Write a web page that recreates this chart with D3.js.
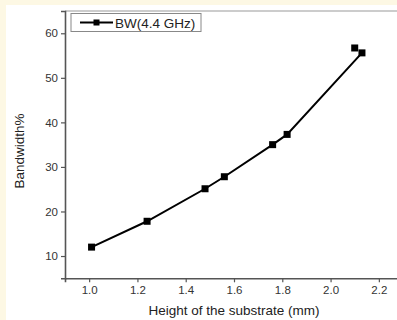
<!DOCTYPE html>
<html>
<head>
<meta charset="utf-8">
<script src="https://cdn.jsdelivr.net/npm/d3@7"></script>
<style>
  body { margin: 0; background: #fdf8e4; }
  svg { display: block; }
  text { font-family: "Liberation Sans", Arial, sans-serif; }
</style>
</head>
<body>
<div id="chart"></div>
<script>
// data
const heights = [1.01, 1.24, 1.48, 1.56, 1.76, 1.82, 2.13];
const bandwidth = [12.0, 17.8, 25.1, 27.8, 35.0, 37.3, 55.6];
// extra marker that sits off the line
const extraHeights = [2.10];
const extraBandwidth = [56.7];
const xTicks = [1.0, 1.2, 1.4, 1.6, 1.8, 2.0, 2.2];
const yTicks = [10, 20, 30, 40, 50, 60];
const seriesName = "BW(4.4 GHz)";

const W = 397, H = 320;
const margin = {left: 65, top: 11, right: 403, bottom: 278.3};

const svg = d3.select("#chart").append("svg")
    .attr("width", W).attr("height", H);

// white panel over the cream page
svg.append("rect")
    .attr("x", 6).attr("y", 5)
    .attr("width", W - 6).attr("height", H - 5)
    .attr("fill", "#fff");

const x = d3.scaleLinear().domain([0.9, 2.3]).range([margin.left, margin.right]);
const y = d3.scaleLinear().domain([5, 65]).range([margin.bottom, margin.top]);

// frame top
svg.append("line")
    .attr("x1", margin.left).attr("x2", W)
    .attr("y1", margin.top).attr("y2", margin.top)
    .attr("stroke", "#999").attr("stroke-width", 1.2);

const xAxis = svg.append("g")
    .attr("transform", `translate(0,${margin.bottom})`)
    .call(d3.axisBottom(x).tickValues(xTicks).tickFormat(d3.format(".1f")).tickSizeOuter(0).tickSize(4).tickPadding(4));

const yAxis = svg.append("g")
    .attr("transform", `translate(${margin.left},0)`)
    .call(d3.axisLeft(y).tickValues(yTicks).tickSizeOuter(0).tickSize(4).tickPadding(3));

[xAxis, yAxis].forEach(g => {
    g.select(".domain").attr("stroke", "#555").attr("stroke-width", 1.6);
    g.selectAll(".tick line").attr("stroke", "#555").attr("stroke-width", 1.2);
    g.selectAll(".tick text").attr("fill", "#333").attr("font-size", 11.5);
});

// axis titles
svg.append("text")
    .attr("x", 234).attr("y", 315)
    .attr("text-anchor", "middle")
    .attr("font-size", 13.5).attr("fill", "#222")
    .text("Height of the substrate (mm)");

svg.append("text")
    .attr("transform", "translate(24,151) rotate(-90)")
    .attr("text-anchor", "middle")
    .attr("font-size", 13.5).attr("fill", "#222")
    .text("Bandwidth%");

// line + markers
const pts = heights.map((h, i) => ({h: h, v: bandwidth[i]}));
const extra = extraHeights.map((h, i) => ({h: h, v: extraBandwidth[i]}));

svg.append("path")
    .datum(pts)
    .attr("fill", "none")
    .attr("stroke", "#000")
    .attr("stroke-width", 2)
    .attr("d", d3.line().x(d => x(d.h)).y(d => y(d.v)));

const ms = 7;
svg.selectAll(".pt")
    .data(pts.concat(extra))
    .enter().append("rect")
    .attr("class", "pt")
    .attr("x", d => x(d.h) - ms / 2)
    .attr("y", d => y(d.v) - ms / 2)
    .attr("width", ms).attr("height", ms)
    .attr("fill", "#000");

// legend
const lg = svg.append("g").attr("transform", "translate(71,13.5)");
lg.append("rect")
    .attr("width", 130).attr("height", 18)
    .attr("fill", "#fff").attr("stroke", "#888").attr("stroke-width", 1);
lg.append("line")
    .attr("x1", 9).attr("x2", 42).attr("y1", 9).attr("y2", 9)
    .attr("stroke", "#000").attr("stroke-width", 2);
lg.append("rect")
    .attr("x", 25.5 - 3).attr("y", 9 - 3).attr("width", 6).attr("height", 6)
    .attr("fill", "#000");
lg.append("text")
    .attr("x", 44).attr("y", 14)
    .attr("font-size", 13.5).attr("fill", "#222")
    .text(seriesName);
</script>
</body>
</html>
